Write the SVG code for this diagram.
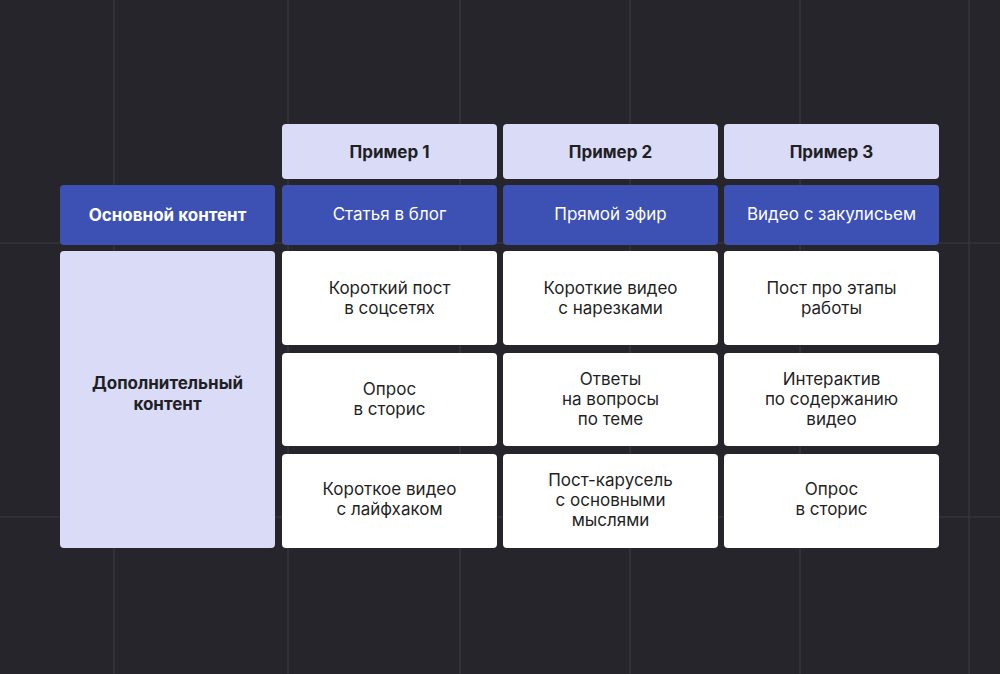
<svg xmlns="http://www.w3.org/2000/svg" width="1000" height="674" viewBox="0 0 1000 674">
<style>
.g{stroke:#3b3a40;stroke-width:1.2}
.h{fill:#d9dbf7}
.m{fill:#3d50b3}
.w{fill:#ffffff}
text{font-family:Inter,"Noto Sans",sans-serif;font-size:17px;text-anchor:middle}
.b{font-weight:700;fill:#1f1f24}
.wt{fill:#ffffff}
.k{fill:#1f1f24}
</style>
<rect width="1000" height="674" fill="#26252b"/>
<g id="grid">
<line class="g" x1="114" y1="0" x2="114" y2="674"/>
<line class="g" x1="288" y1="0" x2="288" y2="674"/>
<line class="g" x1="460" y1="0" x2="460" y2="674"/>
<line class="g" x1="630" y1="0" x2="630" y2="674"/>
<line class="g" x1="800" y1="0" x2="800" y2="674"/>
<line class="g" x1="969" y1="0" x2="969" y2="674"/>
<line class="g" x1="0" y1="243" x2="1000" y2="243"/>
<line class="g" x1="0" y1="517" x2="1000" y2="517"/>
</g>
<g id="connectors"/>
<g id="h1"><rect class="h" x="282" y="124" width="215" height="55" rx="4"/><text class="b" x="389.5" y="158">Пример 1</text></g>
<g id="h2"><rect class="h" x="503" y="124" width="215" height="55" rx="4"/><text class="b" x="610.5" y="158">Пример 2</text></g>
<g id="h3"><rect class="h" x="724" y="124" width="215" height="55" rx="4"/><text class="b" x="831.5" y="158">Пример 3</text></g>
<g id="main"><rect class="m" x="60" y="185" width="215" height="60" rx="4"/><text class="b wt" x="167.5" y="221" style="fill:#fff">Основной контент</text></g>
<g id="m1"><rect class="m" x="282" y="185" width="215" height="60" rx="4"/><text class="wt" x="389.5" y="220">Статья в блог</text></g>
<g id="m2"><rect class="m" x="503" y="185" width="215" height="60" rx="4"/><text class="wt" x="610.5" y="220">Прямой эфир</text></g>
<g id="m3"><rect class="m" x="724" y="185" width="215" height="60" rx="4"/><text class="wt" x="831.5" y="220">Видео с закулисьем</text></g>
<g id="extra"><rect class="h" x="60" y="251" width="215" height="297" rx="4"/><text class="b" x="167.5" y="389">Дополнительный</text><text class="b" x="167.5" y="410">контент</text></g>
<g id="c11"><rect class="w" x="282" y="251" width="215" height="94" rx="4"/><text class="k" x="389.5" y="294">Короткий пост</text><text class="k" x="389.5" y="314">в соцсетях</text></g>
<g id="c12"><rect class="w" x="503" y="251" width="215" height="94" rx="4"/><text class="k" x="610.5" y="294">Короткие видео</text><text class="k" x="610.5" y="314">с нарезками</text></g>
<g id="c13"><rect class="w" x="724" y="251" width="215" height="94" rx="4"/><text class="k" x="831.5" y="294">Пост про этапы</text><text class="k" x="831.5" y="314">работы</text></g>
<g id="c21"><rect class="w" x="282" y="353" width="215" height="93" rx="4"/><text class="k" x="389.5" y="395">Опрос</text><text class="k" x="389.5" y="415">в сторис</text></g>
<g id="c22"><rect class="w" x="503" y="353" width="215" height="93" rx="4"/><text class="k" x="610.5" y="385">Ответы</text><text class="k" x="610.5" y="405">на вопросы</text><text class="k" x="610.5" y="425">по теме</text></g>
<g id="c23"><rect class="w" x="724" y="353" width="215" height="93" rx="4"/><text class="k" x="831.5" y="385">Интерактив</text><text class="k" x="831.5" y="405">по содержанию</text><text class="k" x="831.5" y="425">видео</text></g>
<g id="c31"><rect class="w" x="282" y="454" width="215" height="94" rx="4"/><text class="k" x="389.5" y="495">Короткое видео</text><text class="k" x="389.5" y="515">с лайфхаком</text></g>
<g id="c32"><rect class="w" x="503" y="454" width="215" height="94" rx="4"/><text class="k" x="610.5" y="486">Пост-карусель</text><text class="k" x="610.5" y="506">с основными</text><text class="k" x="610.5" y="526">мыслями</text></g>
<g id="c33"><rect class="w" x="724" y="454" width="215" height="94" rx="4"/><text class="k" x="831.5" y="495">Опрос</text><text class="k" x="831.5" y="515">в сторис</text></g>
</svg>
